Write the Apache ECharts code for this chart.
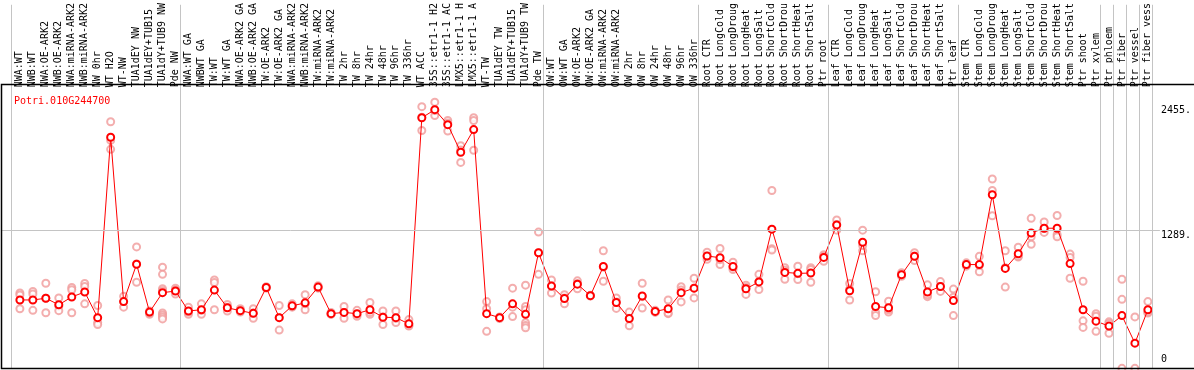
<!DOCTYPE html>
<html>
<head>
<meta charset="utf-8">
<script src="https://cdn.jsdelivr.net/npm/echarts@6/dist/echarts.min.js"></script>
<style>
html,body{margin:0;padding:0;background:#fff;}
#chart{width:1194px;height:370px;}
</style>
</head>
<body>
<div id="chart"></div>
<script>
// ---- data ----
const geneName = 'Potri.010G244700';
const categories = [
  'NWA:WT','NWB:WT','NWA:OE-ARK2','NWB:OE-ARK2','NWA:miRNA-ARK2','NWB:miRNA-ARK2','NW 0hr','WT H2O','WT-NW','TUA1dEY NW','TUA1dEY+TUB15','TUA1dY+TUB9 NW','Pde NW',
  'NWA:WT GA','NWBWT GA','TW:WT','TW:WT GA','NWA:OE-ARK2 GA','NWB:OE-ARK2 GA','TW:OE-ARK2','TW:OE-ARK2 GA','NWA:miRNA-ARK2','NWB:miRNA-ARK2','TW:miRNA-ARK2','TW:miRNA-ARK2',
  'TW 2hr','TW 8hr','TW 24hr','TW 48hr','TW 96hr','TW 336hr','WT ACC','35S::etr1-1 H2','35S::etr1-1 AC','LMX5::etr1-1 H','LMX5::etr1-1 A','WT-TW','TUA1dEY TW','TUA1dEY+TUB15','TUA1dY+TUB9 TW','Pde TW',
  'OW:WT','OW:WT GA','OW:OE-ARK2','OW:OE-ARK2 GA','OW:miRNA-ARK2','OW:miRNA-ARK2','OW 2hr','OW 8hr','OW 24hr','OW 48hr','OW 96hr','OW 336hr',
  'Root CTR','Root LongCold','Root LongDroug','Root LongHeat','Root LongSalt','Root ShortCold','Root ShortDrou','Root ShortHeat','Root ShortSalt','Ptr root',
  'Leaf CTR','Leaf LongCold','Leaf LongDroug','Leaf LongHeat','Leaf LongSalt','Leaf ShortCold','Leaf ShortDrou','Leaf ShortHeat','Leaf ShortSalt','Ptr leaf',
  'Stem CTR','Stem LongCold','Stem LongDroug','Stem LongHeat','Stem LongSalt','Stem ShortCold','Stem ShortDrou','Stem ShortHeat','Stem ShortSalt','Ptr shoot','Ptr xylem',
  'Ptr phloem','Ptr fiber','Ptr vessel','Ptr fiber vess'
];
const means = [
  638,638,654,593,666,712,473,2156,623,971,525,706,721,
  535,547,730,565,538,513,754,473,583,611,758,510,522,510,547,477,473,415,2337,2413,2273,2016,2227,510,473,602,504,1078,
  767,651,785,678,950,614,464,675,531,556,706,748,
  1048,1032,950,742,806,1298,895,886,889,1035,
  1338,724,1176,577,565,874,1045,712,764,632,
  968,968,1619,932,1069,1262,1307,1307,977,547,440,
  394,492,235,547
];
const replicates = [
  [703,684,556],[718,693,541],[794,654,519],[657,580,538],[754,733,519],[791,764,602],[586,428,409],[2300,2126,2043],[672,571,623],[1133,803,974],[535,504,516],[944,877,742,724,516,498,480,461],[748,693,730],
  [571,504,525],[602,504,541],[825,800,547],[596,535,571],[556,525,535],[556,467,516],[761,748,754],[586,357,473],[602,571,577],[687,547,602],[770,748,754],[522,504,507],[577,467,522],[541,486,504],[614,504,522],[535,480,409],[535,428,467],[455,400,394],[2441,2343,2218],[2483,2358,2404],[2312,2214,2288],[2077,1921,2037],[2337,2312,2034],[623,556,345],[480,464,473],[748,571,483],[776,577,547,425,400,379],[1271,877,1078],
  [825,703,770],[687,602,657],[816,742,791],[681,678,675],[1097,812,944],[657,559,620],[525,397,467],[794,562,669],[541,522,531],[638,510,516],[761,620,730],[840,657,748],
  [1084,1017,1045],[1118,968,1014],[990,922,944],[776,690,754],[877,736,809],[1659,1115,1103],[938,831,916],[953,828,883],[938,803,922],[1060,999,1045],
  [1384,1289,1341],[791,638,739],[1289,1097,1145],[715,522,492],[626,525,547],[892,858,871],[1078,1005,1048],[779,669,687],[809,718,764],[739,492,663],
  [984,953,968],[1045,901,962],[1766,1659,1423],[1097,758,938],[1130,1039,1045],[1399,1228,1158],[1365,1268,1304],[1426,1249,1228],[1066,1035,840],[812,443,382],[510,486,345],
  [434,418,327],[831,644,0],[480,0],[623,516,525]
];
const groupStarts = [0, 13, 41, 53, 63, 73, 84, 85, 86, 87, 88];
const refLineValue = 1289;
const yTickValues = [2455, 1289];
const yTickLabels = ['2455.', '1289.'];
const yZeroValues = [0];
const yZeroLabels = ['0'];

// ---- build ----
const meanData = means.map((v, i) => [i, v]);
const repData = [];
replicates.forEach((arr, i) => arr.forEach(v => repData.push([i, v])));
const boundaryLines = groupStarts.map(b => ({ xAxis: b - 0.65 }));
const catIdx = categories.map((_, i) => i);

const X_MIN = -0.65 - 10.5 / 13;
const X_MAX = X_MIN + 1162 / 13;
const Y_MIN = -6, Y_MAX = 3391;
const mono = 'DejaVu Sans Mono';

const chart = echarts.init(document.getElementById('chart'), null, { renderer: 'canvas' });
chart.setOption({
  animation: false,
  backgroundColor: '#ffffff',
  title: {
    text: geneName, left: 9, top: 91,
    textStyle: { color: '#ff0000', fontSize: 10, fontWeight: 'normal', fontFamily: mono }
  },
  grid: { left: 1, right: 31, top: 0, bottom: 1 },
  xAxis: [{
    type: 'value', position: 'top', offset: -84.5, min: X_MIN, max: X_MAX,
    axisLine: { show: false }, axisTick: { show: false }, splitLine: { show: false },
    axisLabel: {
      customValues: catIdx, rotate: 90, margin: 2, color: '#000', fontSize: 10, fontFamily: mono,
      formatter: v => categories[Math.round(v)] || ''
    }
  }],
  yAxis: [{
    type: 'value', position: 'right', min: Y_MIN, max: Y_MAX,
    axisLine: { show: false }, axisTick: { show: false }, splitLine: { show: false },
    axisLabel: {
      customValues: yTickValues, margin: 1, align: 'left', verticalAlign: 'top',
      color: '#000', fontSize: 10, fontFamily: mono,
      formatter: v => yTickLabels[yTickValues.indexOf(v)]
    }
  }, {
    type: 'value', position: 'right', min: Y_MIN, max: Y_MAX,
    axisLine: { show: false }, axisTick: { show: false }, splitLine: { show: false },
    axisLabel: {
      customValues: yZeroValues, margin: 1, align: 'left', verticalAlign: 'bottom',
      padding: [0, 0, 4, 0],
      color: '#000', fontSize: 10, fontFamily: mono,
      formatter: v => yZeroLabels[yZeroValues.indexOf(v)]
    }
  }],
  graphic: [{
    type: 'rect', silent: true, z: 100,
    shape: { x: 1.5, y: 84.5, width: 1200, height: 284 },
    style: { fill: 'none', stroke: '#000', lineWidth: 1.5 }
  }],
  series: [{
    type: 'scatter', data: repData, z: 2,
    symbol: 'emptyCircle', symbolSize: 7,
    itemStyle: { color: '#f09a9a', borderColor: '#f09a9a', borderWidth: 1.3 },
    markLine: {
      silent: true, symbol: 'none', label: { show: false },
      lineStyle: { color: '#c4c4c4', width: 1, type: 'solid' },
      data: boundaryLines.concat([{ yAxis: refLineValue }])
    }
  }, {
    type: 'line', data: meanData, z: 3,
    symbol: 'emptyCircle', symbolSize: 7, showAllSymbol: true,
    lineStyle: { color: '#ff0000', width: 1 },
    itemStyle: { color: '#ff0000', borderColor: '#ff0000', borderWidth: 1.6 }
  }]
});
</script>
</body>
</html>
